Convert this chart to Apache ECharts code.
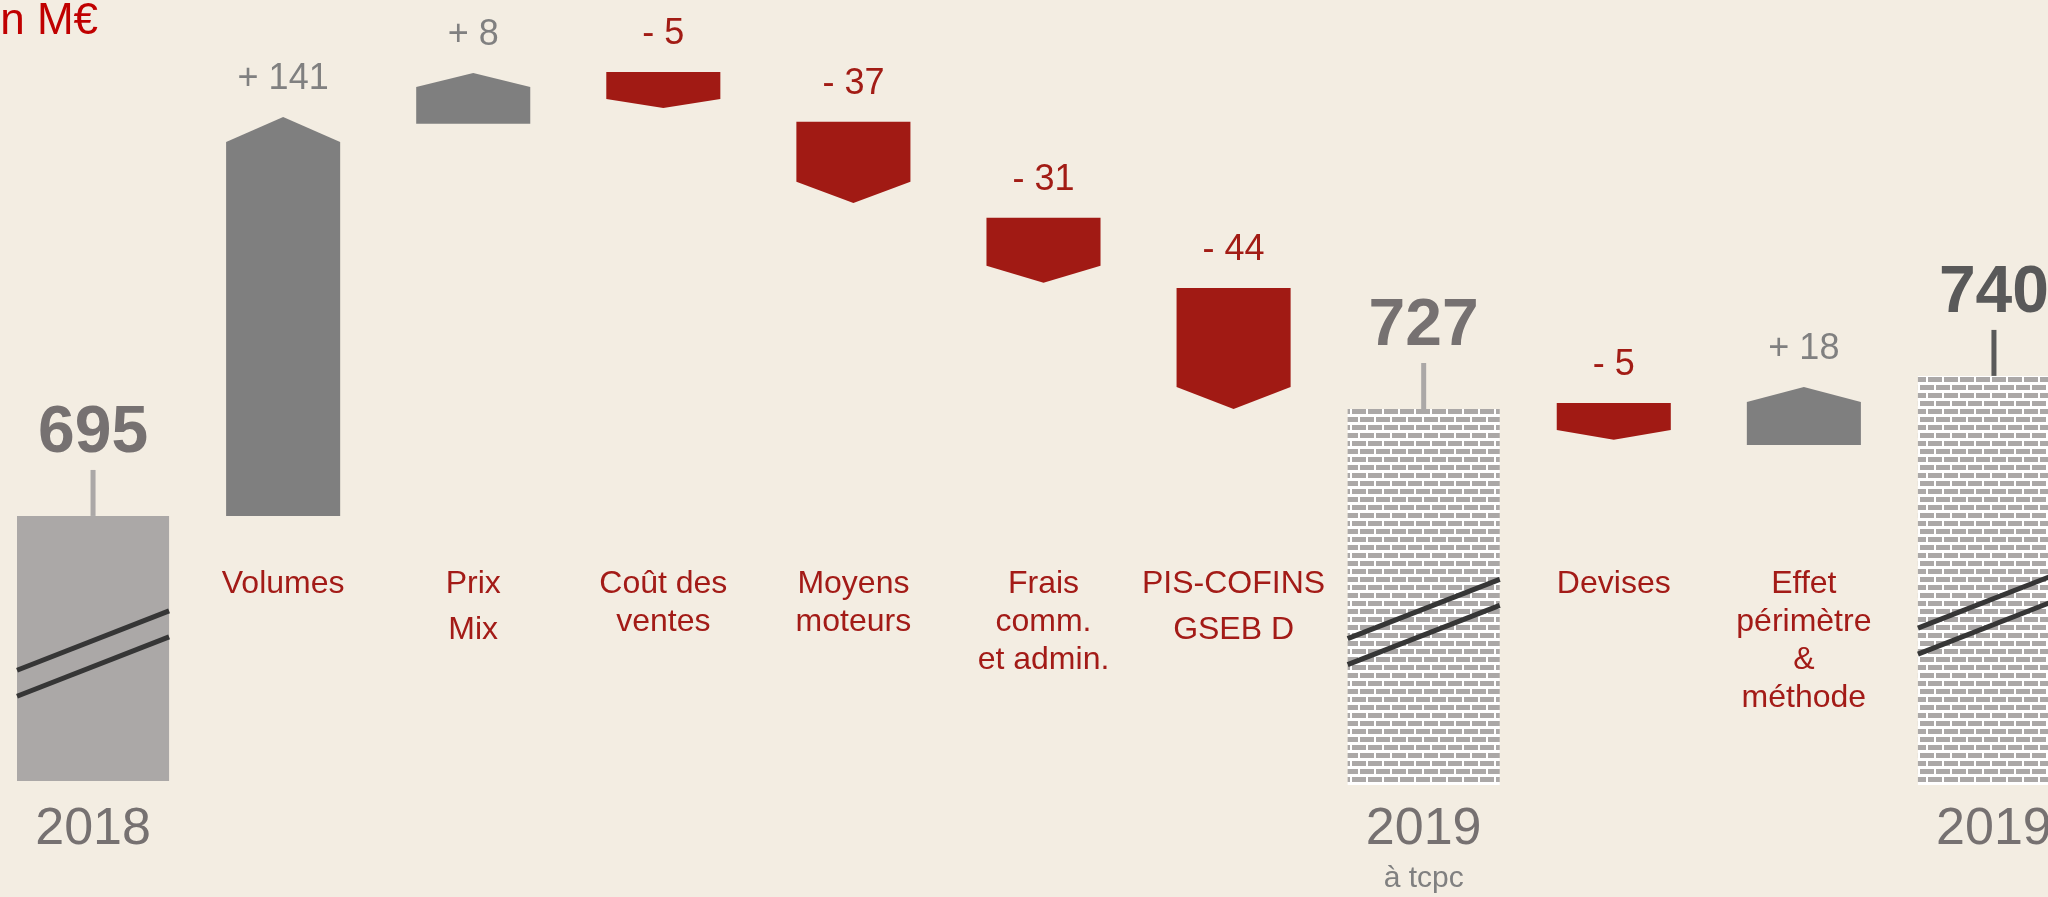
<!DOCTYPE html>
<html>
<head>
<meta charset="utf-8">
<title>Chiffre d'affaires 2018 - 2019</title>
<script src="https://cdn.jsdelivr.net/npm/echarts@6/dist/echarts.min.js"></script>
<style>
  html, body { margin: 0; padding: 0; background: #f3ede2; }
  #chart { width: 2048px; height: 897px; }
</style>
</head>
<body>
<div id="chart"></div>
<script>
var categories = ['2018', 'Volumes', 'Prix\nMix', 'Coût des\nventes', 'Moyens\nmoteurs',
  'Frais\ncomm.\net admin.', 'PIS-COFINS\nGSEB D', '2019', 'Devises',
  'Effet\npérimètre\n&\nméthode', '2019'];
var subLabels = ['', '', '', '', '', '', '', 'à tcpc', '', '', ''];
var totals = [695, null, null, null, null, null, null, 727, null, null, 740];
var deltas = [null, 141, 8, -5, -37, -31, -44, null, -5, 18, null];

// the source slide is not drawn to scale, so the drawn levels are read off it
var drawnFrom = [601.4, 695.1, 833.7, 852.0, 834.4, 800.5, 775.7, 600, 735.0, 720.2, 600];
var drawnNeck = [null, 827.3, 846.7, 842.5, 813.2, 783.5, 740.7, null, 725.5, 735.4, null];
var drawnTo = [695.1, 836.1, 851.7, 839.3, 805.7, 777.5, 732.9, 732.9, 722.0, 740.7, 744.6];

var yMin = 600, yMax = 875;
var FONT = '"Liberation Sans", Arial, sans-serif';
var GREY = '#7f7f7f', RED = '#a11a14', LABEL_RED = '#a31b17';
var leading = {2: 46, 6: 46};

function bricks() {
  var c = document.createElement('canvas');
  c.width = 16;
  c.height = 16;
  var g = c.getContext('2d');
  g.fillStyle = '#ffffff';
  g.fillRect(0, 0, 16, 16);
  g.fillStyle = '#aba8a7';
  g.fillRect(0, 1, 14, 5);
  g.fillRect(8, 9, 14, 5);
  g.fillRect(-8, 9, 14, 5);
  return c;
}
var brickFill = {image: bricks(), repeat: 'repeat'};

var totalData = [], stepData = [];
categories.forEach(function (c, i) {
  if (totals[i] != null) totalData.push([i, drawnFrom[i], drawnTo[i], totals[i]]);
  if (deltas[i] != null) stepData.push([i, drawnFrom[i], drawnNeck[i], drawnTo[i], deltas[i]]);
});

function renderTotal(params, api) {
  var i = api.value(0);
  var base = api.coord([i, api.value(1)]);
  var top = api.coord([i, api.value(2)])[1];
  var axisY = api.coord([i, yMin])[1];
  var w = api.size([1, 0])[0] * 0.8;
  var cx = base[0], l = cx - w / 2, h = base[1] - top;
  var first = params.dataIndex === 0;
  var last = params.dataIndex === totalData.length - 1;
  var y1 = base[1] - 0.32 * h;
  var rise = w * 0.39;
  var children = [
    {type: 'rect', shape: {x: l, y: top, width: w, height: h},
      style: {fill: first ? '#aba8a7' : brickFill}},
    {type: 'line', shape: {x1: l, y1: y1, x2: l + w, y2: y1 - rise},
      style: {stroke: '#363636', lineWidth: 5}},
    {type: 'line', shape: {x1: l, y1: y1 - 26, x2: l + w, y2: y1 - 26 - rise},
      style: {stroke: '#363636', lineWidth: 5}},
    {type: 'line', shape: {x1: cx, y1: top, x2: cx, y2: top - 46},
      style: {stroke: last ? '#595959' : '#aba8a7', lineWidth: 5}},
    {type: 'text', style: {text: String(api.value(3)), x: cx, y: top - 82,
      align: 'center', verticalAlign: 'middle', font: 'bold 66px ' + FONT,
      fill: last ? '#595959' : '#767171'}},
    {type: 'text', style: {text: categories[i], x: cx, y: axisY + 45,
      align: 'center', verticalAlign: 'middle', font: '52px ' + FONT, fill: '#767171'}}
  ];
  if (subLabels[i]) {
    children.push({type: 'text', style: {text: subLabels[i], x: cx, y: axisY + 94,
      align: 'center', verticalAlign: 'middle', font: '30px ' + FONT, fill: '#808080'}});
  }
  return {type: 'group', children: children};
}

function renderStep(params, api) {
  var i = api.value(0);
  var from = api.coord([i, api.value(1)]);
  var neck = api.coord([i, api.value(2)])[1];
  var tip = api.coord([i, api.value(3)])[1];
  var axisY = api.coord([i, yMin])[1];
  var d = api.value(4);
  var w = api.size([1, 0])[0] * 0.6;
  var cx = from[0], l = cx - w / 2, r = cx + w / 2;
  var up = d > 0;
  var lead = leading[i] || 38;
  return {type: 'group', children: [
    {type: 'polygon',
      shape: {points: [[l, from[1]], [r, from[1]], [r, neck], [cx, tip], [l, neck]]},
      style: {fill: up ? GREY : RED}},
    {type: 'text', style: {text: (up ? '+ ' : '- ') + Math.abs(d), x: cx,
      y: Math.min(from[1], tip) - 38, align: 'center', verticalAlign: 'middle',
      font: '36px ' + FONT, fill: up ? '#808080' : '#a21c15'}},
    {type: 'text', style: {text: categories[i], x: cx, y: axisY - 201 - lead / 2,
      align: 'center', verticalAlign: 'top', lineHeight: lead,
      font: '32px ' + FONT, fill: LABEL_RED}}
  ]};
}

var chart = echarts.init(document.getElementById('chart'));
chart.setOption({
  backgroundColor: '#f3ede2',
  animation: false,
  grid: {left: -2, width: 2091, top: 7, bottom: 112, outerBoundsMode: 'none'},
  xAxis: {type: 'category', data: categories, show: false},
  yAxis: {type: 'value', min: yMin, max: yMax, show: false},
  graphic: [{
    type: 'text', x: 98, y: 22,
    style: {text: 'en M€', align: 'right', textAlign: 'right', verticalAlign: 'middle',
      textVerticalAlign: 'middle', font: '44px ' + FONT, fill: '#c00000'}
  }],
  series: [
    {type: 'custom', silent: true, data: totalData, renderItem: renderTotal,
      encode: {x: 0, y: [1, 2]}},
    {type: 'custom', silent: true, data: stepData, renderItem: renderStep,
      encode: {x: 0, y: [1, 2, 3]}}
  ]
});
</script>
</body>
</html>
